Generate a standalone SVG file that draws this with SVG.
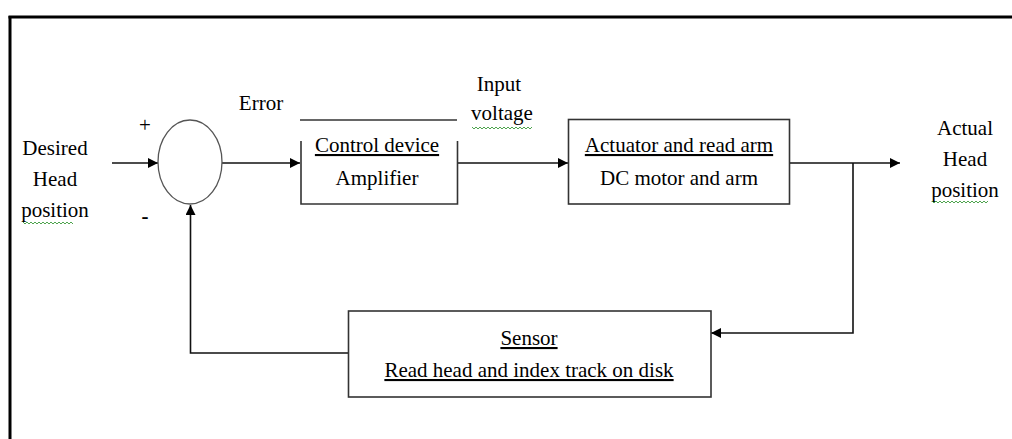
<svg xmlns="http://www.w3.org/2000/svg" width="1012" height="439" viewBox="0 0 1012 439">
<style>
  text { font-family: "Liberation Serif", Tinos, "Times New Roman", "DejaVu Serif", serif; font-size: 21px; fill: #000; }
  .c { text-anchor: middle; }
  .u { text-decoration: underline; }
  .box { fill: none; stroke: #333; stroke-width: 1.6; }
  .ln { fill: none; stroke: #111; stroke-width: 1.6; }
  .sq { fill: none; stroke: #3a9a3a; stroke-width: 0.9; }
</style>
<defs>
  <marker id="ah" viewBox="0 0 10 10" refX="10" refY="5" markerWidth="10" markerHeight="10" markerUnits="userSpaceOnUse" orient="auto">
    <path d="M0,0 L10,5 L0,10 z" fill="#000"/>
  </marker>
</defs>
<rect width="1012" height="439" fill="#fff"/>
<g id="frame">
  <line x1="10" y1="16" x2="10" y2="439" stroke="#000" stroke-width="3"/>
  <line x1="8.5" y1="17" x2="1012" y2="17" stroke="#000" stroke-width="3"/>
</g>
<g id="connectors">
  <line class="ln" x1="112" y1="163" x2="158" y2="163" marker-end="url(#ah)"/>
  <line class="ln" x1="222" y1="163" x2="300" y2="163" marker-end="url(#ah)"/>
  <line class="ln" x1="458" y1="163" x2="568" y2="163" marker-end="url(#ah)"/>
  <line class="ln" x1="790" y1="163" x2="900" y2="163" marker-end="url(#ah)"/>
  <polyline class="ln" points="853,163 853,333 711,333" marker-end="url(#ah)"/>
  <polyline class="ln" points="348,353 190.5,353 190.5,205" marker-end="url(#ah)"/>
</g>
<g id="sum">
  <ellipse cx="190" cy="162" rx="32" ry="42" fill="none" stroke="#555" stroke-width="1.3"/>
  <text x="145" y="132" class="c">+</text>
  <text x="145" y="223" class="c" font-weight="bold">-</text>
</g>
<g id="input">
  <text x="55" y="155" class="c">Desired</text>
  <text x="55" y="186" class="c">Head</text>
  <text x="55" y="217" class="c">position</text>
  <path class="sq" d="M23,222 l2,2 l2,-2 l2,2 l2,-2 l2,2 l2,-2 l2,2 l2,-2 l2,2 l2,-2 l2,2 l2,-2 l2,2 l2,-2 l2,2 l2,-2 l2,2 l2,-2 l2,2 l2,-2 l2,2 l2,-2 l2,2 l2,-2 l2,2"/>
</g>
<g id="error-label">
  <text x="261" y="110" class="c">Error</text>
</g>
<g id="control">
  <line class="box" x1="300" y1="120" x2="457" y2="120"/>
  <polyline class="box" points="301,141 301,204 457.5,204 457.5,141"/>
  <text x="377" y="152" class="c u">Control device</text>
  <text x="377" y="185" class="c">Amplifier</text>
</g>
<g id="voltage-label">
  <text x="499" y="91" class="c">Input</text>
  <text x="502" y="120" class="c">voltage</text>
  <path class="sq" d="M472,127 l2,2 l2,-2 l2,2 l2,-2 l2,2 l2,-2 l2,2 l2,-2 l2,2 l2,-2 l2,2 l2,-2 l2,2 l2,-2 l2,2 l2,-2 l2,2 l2,-2 l2,2 l2,-2 l2,2 l2,-2 l2,2 l2,-2 l2,2 l2,-2 l2,2 l2,-2 l2,2 l2,-2"/>
</g>
<g id="actuator">
  <rect class="box" x="568.5" y="119.5" width="221" height="84.5"/>
  <text x="679" y="152" class="c u">Actuator and read arm</text>
  <text x="679" y="185" class="c">DC motor and arm</text>
</g>
<g id="output">
  <text x="965" y="135" class="c">Actual</text>
  <text x="965" y="166" class="c">Head</text>
  <text x="965" y="197" class="c">position</text>
  <path class="sq" d="M932,201 l2,2 l2,-2 l2,2 l2,-2 l2,2 l2,-2 l2,2 l2,-2 l2,2 l2,-2 l2,2 l2,-2 l2,2 l2,-2 l2,2 l2,-2 l2,2 l2,-2 l2,2 l2,-2 l2,2 l2,-2 l2,2 l2,-2 l2,2 l2,-2 l2,2 l2,-2"/>
</g>
<g id="sensor">
  <rect class="box" x="348.5" y="311" width="362.5" height="86"/>
  <text x="529" y="345" class="c u">Sensor</text>
  <text x="529" y="377" class="c u">Read head and index track on disk</text>
</g>
</svg>
